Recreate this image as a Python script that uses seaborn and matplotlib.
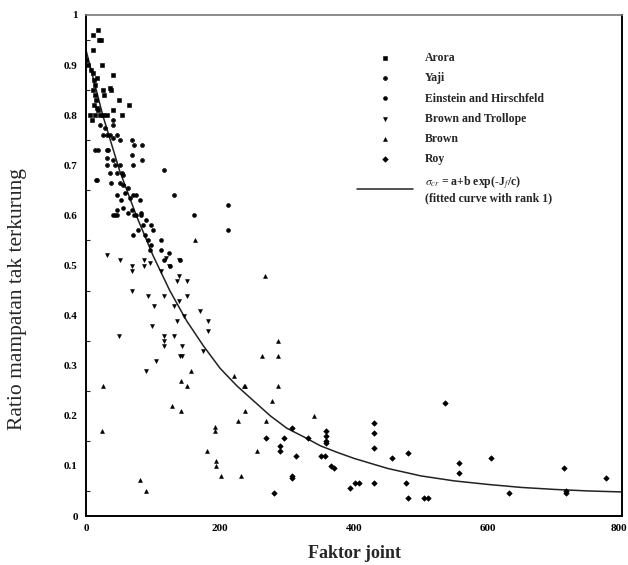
import matplotlib
matplotlib.use("Agg")
import matplotlib.pyplot as plt
import matplotlib.ticker as mticker
import matplotlib.transforms as mtransforms
import seaborn as sns
import numpy as np

sns.set_style("white")
plt.rcParams['font.family'] = ['Liberation Serif', 'DejaVu Serif']
plt.rcParams['mathtext.fontset'] = 'stix'

series_names = ["Arora", "Yaji", "Einstein and Hirschfeld", "Brown and Trollope", "Brown", "Roy"]

# Arora (dense band near origin)
arora_j = [0, 3, 8, 10, 12, 14, 10, 13, 15, 12, 16, 18, 14, 6, 9, 21, 25, 31, 53, 40,
           38, 25, 27, 41, 49, 64, 24, 18, 10, 22, 19, 10, 16, 36]
arora_r = [0.91, 0.90, 0.89, 0.885, 0.87, 0.86, 0.85, 0.84, 0.83, 0.82, 0.815, 0.81, 0.80, 0.80, 0.79, 0.80, 0.80, 0.80, 0.80, 0.81,
           0.85, 0.85, 0.84, 0.88, 0.83, 0.82, 0.90, 0.97, 0.96, 0.95, 0.95, 0.93, 0.875, 0.855]

# Yaji
yaji_j = [21, 28, 40, 40, 25, 31, 36, 40, 46, 50, 68, 71, 84, 13, 18, 31, 33, 31, 40, 68,
          70, 83, 31, 43, 50, 36, 46, 53, 55, 16, 38, 50, 55, 62, 117, 132]
yaji_r = [0.78, 0.775, 0.79, 0.78, 0.76, 0.76, 0.76, 0.755, 0.76, 0.75, 0.75, 0.74, 0.74, 0.73, 0.73, 0.73, 0.73, 0.715, 0.71, 0.72,
          0.70, 0.71, 0.70, 0.70, 0.70, 0.685, 0.685, 0.685, 0.68, 0.67, 0.665, 0.665, 0.66, 0.655, 0.69, 0.64]

# Einstein and Hirschfeld
einstein_j = [46, 52, 58, 66, 70, 75, 80, 46, 55, 63, 68, 72, 82, 40, 43, 47, 75, 82, 161, 212,
              212, 85, 88, 92, 95, 90, 78, 70, 97, 100, 112, 97, 112, 124, 117, 126, 141, 15]
einstein_r = [0.64, 0.63, 0.645, 0.635, 0.64, 0.64, 0.63, 0.61, 0.615, 0.605, 0.61, 0.60, 0.605, 0.60, 0.60, 0.60, 0.60, 0.60, 0.60, 0.62,
              0.57, 0.58, 0.56, 0.55, 0.53, 0.59, 0.57, 0.56, 0.58, 0.57, 0.55, 0.54, 0.53, 0.525, 0.51, 0.50, 0.51, 0.67]

# Brown and Trollope
trollope_j = [112, 139, 136, 151, 31, 50, 68, 68, 86, 86, 95, 120, 124, 139, 68, 92, 117, 151, 139, 132,
              102, 170, 147, 136, 182, 182, 99, 49, 117, 117, 117, 132, 144, 144, 140, 175, 104, 89]
trollope_r = [0.49, 0.48, 0.47, 0.47, 0.52, 0.51, 0.50, 0.49, 0.50, 0.51, 0.505, 0.515, 0.50, 0.51, 0.45, 0.44, 0.44, 0.44, 0.43, 0.42,
              0.42, 0.41, 0.40, 0.39, 0.39, 0.37, 0.38, 0.36, 0.36, 0.35, 0.34, 0.36, 0.34, 0.32, 0.32, 0.33, 0.31, 0.29]

# Brown
brown_j = [156, 142, 151, 221, 237, 25, 24, 129, 142, 81, 89, 193, 193, 181, 194, 194, 201, 227, 231, 238,
           255, 162, 267, 286, 262, 286, 286, 236, 277, 268, 341]
brown_r = [0.29, 0.27, 0.26, 0.28, 0.26, 0.26, 0.17, 0.22, 0.21, 0.072, 0.05, 0.178, 0.17, 0.13, 0.11, 0.10, 0.08, 0.19, 0.08, 0.21,
           0.13, 0.55, 0.48, 0.35, 0.32, 0.32, 0.26, 0.26, 0.23, 0.19, 0.20]

# Roy
roy_j = [358, 358, 358, 358, 307, 332, 268, 296, 289, 289, 313, 350, 356, 366, 370, 307, 307, 281, 394, 401,
         407, 430, 430, 430, 430, 456, 480, 477, 480, 505, 510, 536, 557, 556, 605, 632, 714, 716, 716, 776]
roy_r = [0.17, 0.16, 0.15, 0.145, 0.175, 0.155, 0.155, 0.155, 0.14, 0.13, 0.12, 0.12, 0.12, 0.10, 0.095, 0.08, 0.075, 0.045, 0.055, 0.065,
         0.065, 0.185, 0.165, 0.135, 0.065, 0.115, 0.125, 0.065, 0.035, 0.035, 0.035, 0.225, 0.105, 0.085, 0.115, 0.045, 0.095, 0.05, 0.045, 0.075]

# fitted curve, values
curve_j = [0, 25, 50, 75, 100, 125, 150, 175, 200, 225, 250, 275, 300, 325, 350, 375, 400,
           450, 500, 550, 600, 650, 700, 750, 800]
curve_r = [0.93, 0.80, 0.69, 0.60, 0.52, 0.45, 0.39, 0.34, 0.295, 0.26, 0.23, 0.20, 0.175, 0.158, 0.14, 0.127, 0.115,
           0.095, 0.08, 0.07, 0.063, 0.057, 0.053, 0.05, 0.048]

x_ticks = [0, 200, 400, 600, 800]
x_ticklabels = ["0", "200", "400", "600", "800"]
y_ticks = [0, 0.1, 0.2, 0.3, 0.4, 0.5, 0.6, 0.7, 0.8, 0.9, 1.0]
y_ticklabels = ["0", "0.1", "0.2", "0.3", "0.4", "0.5", "0.6", "0.7", "0.8", "0.9", "1"]

fig = plt.figure(figsize=(6.28, 5.65), dpi=100)
ax = fig.add_axes([86/628, 1-516/565, (622-86)/628, (516-15)/565])

data = [(arora_j, arora_r, 's'), (yaji_j, yaji_r, 'P'), (einstein_j, einstein_r, 'o'),
        (trollope_j, trollope_r, 'v'), (brown_j, brown_r, '^'), (roy_j, roy_r, 'D')]
for name, (xs, ys, m) in zip(series_names, data):
    sns.scatterplot(x=xs, y=ys, marker=m, color='k', s=8, edgecolor='k', linewidth=0.4,
                    label=name, ax=ax, zorder=3)

sns.lineplot(x=curve_j, y=curve_r, color='#222222', lw=1.1, ax=ax,
             label="$\\sigma_{cr}$ = a+b exp(-J$_f$/c)\n(fitted curve with rank 1)", zorder=2)

ax.set_xlim(0, 800)
ax.set_ylim(0, 1)
ax.set_xticks(x_ticks)
ax.set_xticklabels(x_ticklabels)
ax.set_yticks(y_ticks)
ax.set_yticklabels(y_ticklabels)
ax.yaxis.set_minor_locator(mticker.MultipleLocator(0.05))
ax.tick_params(axis='both', which='major', direction='in', length=5, width=1, labelsize=8,
               pad=6, colors='k')
ax.tick_params(axis='y', which='minor', direction='in', length=3, width=0.8, left=True)
for lab in ax.get_xticklabels() + ax.get_yticklabels():
    lab.set_fontweight('bold')

# keep the last x tick label inside the canvas
last = ax.get_xticklabels()[-1]
last.set_horizontalalignment('right')
last.set_transform(last.get_transform() + mtransforms.ScaledTranslation(5/100, 0, fig.dpi_scale_trans))

for side in ['left', 'bottom', 'right']:
    ax.spines[side].set_color('k')
    ax.spines[side].set_linewidth(1.4)
ax.spines['top'].set_color('#777777')
ax.spines['top'].set_linewidth(1.2)

ax.set_xlabel("Faktor joint", fontsize=13, fontweight='bold')
ax.xaxis.set_label_coords(0.5, (516-553)/501, transform=ax.transAxes)
ax.xaxis.label.set_va('center')
ax.set_ylabel("Ratio mampatan tak terkurung", fontsize=15.5)
ax.yaxis.set_label_coords((18-86)/536, (516-299)/501, transform=ax.transAxes)
ax.yaxis.label.set_va('center')

leg = ax.legend(loc='upper left', bbox_to_anchor=(357/628, 1-52/565), bbox_transform=fig.transFigure,
                frameon=False, fontsize=8.5, handlelength=4.75, handletextpad=1.0,
                labelspacing=0.7, borderpad=0, borderaxespad=0, markerscale=1.0)
for t in leg.get_texts():
    t.set_fontweight('bold')

fig.savefig("out.png", dpi=100)
